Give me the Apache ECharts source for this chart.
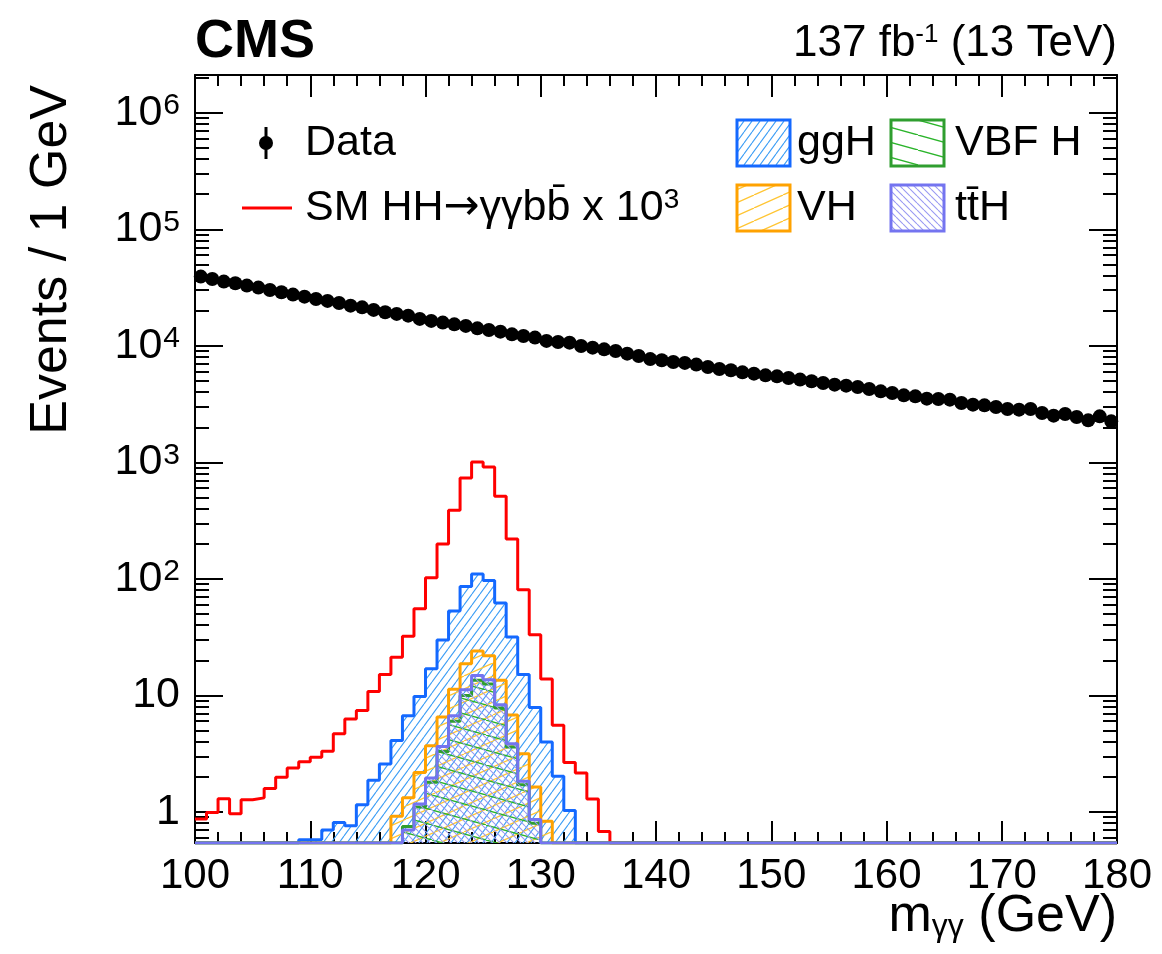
<!DOCTYPE html>
<html>
<head>
<meta charset="utf-8">
<script src="https://cdn.jsdelivr.net/npm/echarts@6/dist/echarts.min.js"></script>
<style>
html,body{margin:0;padding:0;background:#fff;}
#chart{width:1162px;height:954px;}
</style>
</head>
<body>
<div id="chart"></div>
<script>
// ---------------- data ----------------
const EDGE0 = 100;          // first bin low edge (GeV), 1 GeV bins
const X_TICKS = [100,110,120,130,140,150,160,170,180];
const Y_TICKS = [1,10,100,1000,10000,100000,1000000];

const dataValues = [
  39270,37500,35570,34410,32870,31600,30180,28790,27510,26440,
  25260,24290,23340,22130,21400,20330,19390,18790,18160,17020,
  16360,15820,15290,14820,14130,13690,13240,12550,12160,11760,
  11020,10800,10650,9980,9650,9330,9040,8570,8190,7690,
  7510,7275,7135,6898,6590,6335,6163,5923,5772,5582,
  5473,5303,5128,4959,4803,4645,4553,4437,4266,4069,
  3942,3759,3685,3522,3501,3453,3235,3128,3085,2989,
  2873,2834,2873,2655,2517,2603,2453,2294,2482,2249
];

const hhValues = [
  0.87,0.99,1.30,0.965,1.27,1.32,1.59,1.98,2.38,2.70,
  2.94,3.31,4.69,6.27,7.43,10.8,15.1,21.2,32.1,55.5,
  102,199,388,735,1007,912,511,220,80.8,33.2,
  13.8,5.53,2.66,2.16,1.29,0.68,0,0,0,0,
  0,0,0,0,0,0,0,0,0,0, 0,0,0,0,0,0,0,0,0,0,
  0,0,0,0,0,0,0,0,0,0, 0,0,0,0,0,0,0,0,0,0
];

const ggHValues = [
  0,0,0,0,0,0,0,0,0,0.577,
  0.58,0.70,0.81,0.76,1.15,1.87,2.58,4.11,6.69,9.8,
  16.9,29.9,53,86,110,96.6,62,31.7,15.1,7.89,
  3.98,2.02,1.03,0,0,0,0,0,0,0,
  0,0,0,0,0,0,0,0,0,0, 0,0,0,0,0,0,0,0,0,0,
  0,0,0,0,0,0,0,0,0,0, 0,0,0,0,0,0,0,0,0,0
];

const vhValues = [
  0,0,0,0,0,0,0,0,0,0,
  0,0,0,0,0,0,0,0.92,1.32,2.18,
  3.70,6.53,11.3,18.7,24.0,21.9,13.5,6.79,3.16,1.64,
  0.83,0,0,0,0,0,0,0,0,0,
  0,0,0,0,0,0,0,0,0,0, 0,0,0,0,0,0,0,0,0,0,
  0,0,0,0,0,0,0,0,0,0, 0,0,0,0,0,0,0,0,0,0
];

const vbfValues = [
  0,0,0,0,0,0,0,0,0,0,
  0,0,0,0,0,0,0,0,0.75,1.1,
  1.8,3.3,6.0,10.0,13.5,12.5,7.8,3.6,1.71,0.8,
  0,0,0,0,0,0,0,0,0,0,
  0,0,0,0,0,0,0,0,0,0, 0,0,0,0,0,0,0,0,0,0,
  0,0,0,0,0,0,0,0,0,0, 0,0,0,0,0,0,0,0,0,0
];

const tthValues = [
  0,0,0,0,0,0,0,0,0,0,
  0,0,0,0,0,0,0,0,0.70,1.17,
  1.95,3.65,6.7,11.2,14.8,13.6,8.3,3.85,1.83,0.86,
  0,0,0,0,0,0,0,0,0,0,
  0,0,0,0,0,0,0,0,0,0, 0,0,0,0,0,0,0,0,0,0,
  0,0,0,0,0,0,0,0,0,0, 0,0,0,0,0,0,0,0,0,0
];

// ---------------- styling / helpers ----------------
const YMIN = 0.541, YMAX = 2.11e6;
const FONT = "'Liberation Sans', Arial, Helvetica, sans-serif";

const MINOR_Y = [];
for (let k = -1; k <= 6; k++) for (let m = 2; m <= 9; m++) {
  const v = m * Math.pow(10, k);
  if (v > YMIN && v < YMAX) MINOR_Y.push(v);
}

function hatch(color, W, H, dir, lw) {
  const c = document.createElement('canvas');
  c.width = W; c.height = H;
  const g = c.getContext('2d');
  g.strokeStyle = color; g.lineWidth = lw || 1.1;
  g.beginPath();
  for (let k = -1; k <= 1; k++) {
    if (dir === '/') { g.moveTo(k * W, H); g.lineTo((k + 1) * W, 0); }
    else { g.moveTo(k * W, 0); g.lineTo((k + 1) * W, H); }
  }
  g.stroke();
  return { image: c, repeat: 'repeat' };
}

const C = {
  hh: '#ff0000',
  ggH: '#1469ff', ggHh: '#3d9ef5',
  vh: '#ffa200', vhh: '#ffc533',
  vbf: '#2f9e2f', vbfh: '#2ab42a',
  tth: '#7474f0', tthh: '#9a9af2'
};
const P = {
  ggH: hatch(C.ggHh, 8, 11, '/', 1.1),
  vh: hatch(C.vhh, 29, 13, '/', 1.3),
  vbf: hatch(C.vbfh, 54, 15, '\\', 1.3),
  tth: hatch(C.tthh, 7, 7, '\\', 1.1)
};

function histData(vals) {
  const pts = [];
  for (let i = 0; i < vals.length; i++) pts.push([EDGE0 + i, Math.max(vals[i], YMIN)]);
  pts.push([EDGE0 + vals.length, Math.max(vals[vals.length - 1], YMIN)]);
  return pts;
}
function histSeries(name, vals, color, pattern, z) {
  return {
    name, type: 'line', step: 'end', symbol: 'none', clip: true, z,
    xAxisIndex: 0, yAxisIndex: 0,
    data: histData(vals),
    lineStyle: { color, width: 3 },
    itemStyle: { color },
    areaStyle: pattern ? { color: pattern, origin: 'start', opacity: 1 } : undefined
  };
}

const tickStyle = { color: '#000', width: 2 };
function xAx(pos, showLabel) {
  return {
    type: 'value', min: 100, max: 180, interval: 10, position: pos,
    axisLine: { show: true, onZero: false, lineStyle: { color: '#000', width: 2 } },
    axisTick: { show: true, inside: true, length: 22, lineStyle: tickStyle },
    minorTick: { show: true, splitNumber: 5, length: 11, lineStyle: tickStyle },
    splitLine: { show: false }, minorSplitLine: { show: false },
    axisLabel: { show: showLabel, margin: 12, color: '#000', fontSize: 42, fontFamily: FONT,
      customValues: X_TICKS, formatter: v => String(v) }
  };
}
function yAx(pos, major, showLabel) {
  return {
    type: 'log', logBase: 10, min: YMIN, max: YMAX, position: pos,
    axisLine: { show: major, onZero: false, lineStyle: { color: '#000', width: 2 } },
    axisTick: { show: true, inside: true, length: major ? 28 : 14, lineStyle: tickStyle,
      customValues: major ? Y_TICKS : MINOR_Y },
    splitLine: { show: false },
    axisLabel: {
      show: showLabel, margin: 15, color: '#000', fontFamily: FONT, fontSize: 43,
      customValues: Y_TICKS,
      formatter: v => {
        const e = Math.round(Math.log10(v));
        if (e === 0) return '1';
        if (e === 1) return '10';
        return '10{sup|' + e + '}';
      },
      rich: { sup: { fontSize: 30, fontFamily: FONT, color: '#000', verticalAlign: 'top', padding: [0, 0, 14, 1] } }
    }
  };
}

const series = [
  histSeries('HH', hhValues, C.hh, null, 2),
  histSeries('ggH', ggHValues, C.ggH, P.ggH, 3),
  histSeries('VH', vhValues, C.vh, P.vh, 4),
  histSeries('VBF H', vbfValues, C.vbf, P.vbf, 5),
  histSeries('ttH', tthValues, C.tth, P.tth, 6),
  {
    name: 'Data', type: 'scatter', z: 10, symbol: 'circle', symbolSize: 14,
    itemStyle: { color: '#000', opacity: 1 },
    data: dataValues.map((v, i) => [EDGE0 + i + 0.5, v])
  }
];

// legend & texts
const T = (x, y, text, opts) => Object.assign({
  type: 'text', x, y, z: 100,
  style: Object.assign({ text, fill: '#000', font: '43px ' + FONT, textAlign: 'left', textVerticalAlign: 'middle' }, opts || {})
});
const graphics = [
  T(195, 42, 'CMS', { font: 'bold 54px ' + FONT }),
  T(1117, 44, '137 fb{sup|-1} (13 TeV)', { font: '44px ' + FONT, textAlign: 'right',
    rich: { sup: { fontSize: 26, fontFamily: FONT, verticalAlign: 'top', padding: [0, 0, 12, 0] } } }),
  // y title
  { type: 'text', x: 52, y: 85, rotation: Math.PI / 2, z: 100,
    style: { text: 'Events / 1 GeV', fill: '#000', font: '52px ' + FONT, textAlign: 'right', textVerticalAlign: 'middle' } },
  // x title
  T(1117, 917, 'm{sub|γγ} (GeV)', { font: '52px ' + FONT, textAlign: 'right',
    rich: { sub: { fontSize: 32, fontFamily: FONT, verticalAlign: 'bottom', padding: [14, 0, 0, 0] } } }),
  // Data legend
  { type: 'line', z: 100, shape: { x1: 266, y1: 127, x2: 266, y2: 159 }, style: { stroke: '#000', lineWidth: 3 } },
  { type: 'circle', z: 100, shape: { cx: 266, cy: 143, r: 7 }, style: { fill: '#000' } },
  T(305, 143, 'Data'),
  // HH legend
  { type: 'line', z: 100, shape: { x1: 242, y1: 208, x2: 292, y2: 208 }, style: { stroke: C.hh, lineWidth: 3 } },
  T(305, 208, 'SM HH{arr|\u2192}\u03b3\u03b3bb\u0304 x 10{sup|3}', {
    rich: {
      sup: { fontSize: 28, fontFamily: FONT, verticalAlign: 'top', padding: [0, 0, 14, 0] },
      arr: { fontSize: 43, fontFamily: "'DejaVu Sans', sans-serif" }
    } }),
  // boxes
  { type: 'rect', z: 100, shape: { x: 737, y: 120, width: 53, height: 46 }, style: { fill: P.ggH, stroke: C.ggH, lineWidth: 3 } },
  T(797, 143, 'ggH'),
  { type: 'rect', z: 100, shape: { x: 891, y: 120, width: 53, height: 46 }, style: { fill: P.vbf, stroke: C.vbf, lineWidth: 3 } },
  T(955, 143, 'VBF H'),
  { type: 'rect', z: 100, shape: { x: 737, y: 185, width: 53, height: 46 }, style: { fill: P.vh, stroke: C.vh, lineWidth: 3 } },
  T(797, 208, 'VH'),
  { type: 'rect', z: 100, shape: { x: 891, y: 185, width: 53, height: 46 }, style: { fill: P.tth, stroke: C.tth, lineWidth: 3 } },
  T(955, 208, 'tt\u0304H')
];

const chart = echarts.init(document.getElementById('chart'), null, { renderer: 'canvas' });
chart.setOption({
  animation: false,
  backgroundColor: '#fff',
  textStyle: { fontFamily: FONT },
  grid: { left: 195, right: 45, top: 75, bottom: 111, containLabel: false },
  xAxis: [xAx('bottom', true), xAx('top', false)],
  yAxis: [yAx('left', true, true), yAx('left', false, false), yAx('right', true, false), yAx('right', false, false)],
  series,
  graphic: graphics
});
</script>
</body>
</html>
